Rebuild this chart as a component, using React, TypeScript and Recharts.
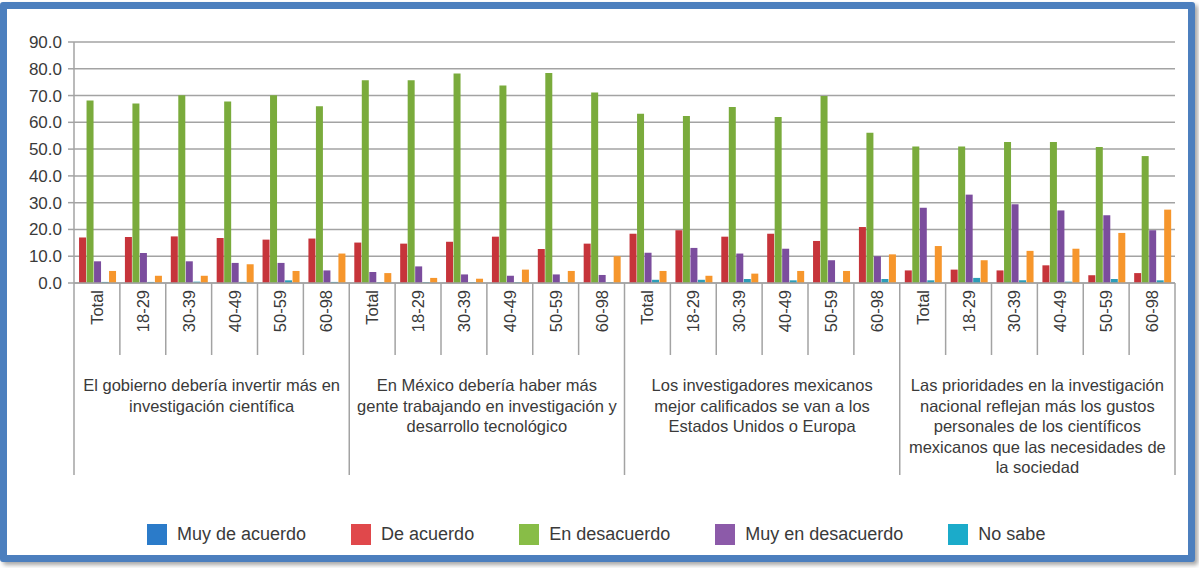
import { BarChart, Bar, XAxis, YAxis, CartesianGrid } from "recharts"

const AGES = ["Total", "18-29", "30-39", "40-49", "50-59", "60-98"]

const GROUPS = [
  ["El gobierno debería invertir más en", "investigación científica"],
  ["En México debería haber más", "gente trabajando en investigación y", "desarrollo tecnológico"],
  ["Los investigadores mexicanos", "mejor calificados se van a los", "Estados Unidos o Europa"],
  [
    "Las prioridades en la investigación",
    "nacional reflejan más los gustos",
    "personales de los científicos",
    "mexicanos que las necesidades de",
    "la sociedad",
  ],
]

const muyDeAcuerdo = [
  17.0, 17.2, 17.4, 16.8, 16.2, 16.6,
  15.1, 14.7, 15.4, 17.3, 12.7, 14.7,
  18.4, 19.7, 17.3, 18.4, 15.7, 20.9,
  4.7, 5.0, 4.7, 6.6, 2.9, 3.7,
]
const deAcuerdo = [
  68.2, 67.0, 70.1, 67.8, 70.1, 66.0,
  75.7, 75.7, 78.2, 73.8, 78.4, 71.1,
  63.2, 62.4, 65.7, 62.0, 69.8, 56.1,
  51.0, 51.0, 52.7, 52.7, 50.8, 47.4,
]
const enDesacuerdo = [
  8.1, 11.2, 8.1, 7.5, 7.5, 4.7,
  4.1, 6.2, 3.2, 2.7, 3.2, 3.0,
  11.3, 13.1, 11.0, 12.8, 8.5, 10.0,
  28.1, 33.0, 29.4, 27.1, 25.3, 19.7,
]
const muyEnDesacuerdo = [
  0.4, 0.4, 0.5, 0.4, 1.0, 0.4,
  0.3, 0.3, 0.3, 0.3, 0.3, 0.3,
  1.2, 1.2, 1.5, 1.0, 0.4, 1.5,
  1.0, 1.9, 1.0, 0.5, 1.5, 1.0,
]
const noSabe = [
  4.5, 2.7, 2.7, 7.0, 4.5, 11.0,
  3.7, 1.9, 1.6, 5.0, 4.5, 10.0,
  4.5, 2.7, 3.5, 4.5, 4.5, 10.7,
  13.8, 8.5, 12.0, 12.8, 18.7, 27.4,
]

const Y_TICKS = [0, 10, 20, 30, 40, 50, 60, 70, 80, 90]

const LEGEND_LABELS = ["Muy de acuerdo", "De acuerdo", "En desacuerdo", "Muy en desacuerdo", "No sabe"]
const LEGEND_COLORS = ["#2b7bc9", "#e0484b", "#88bd47", "#8c5aa9", "#1babca"]

const data = GROUPS.flatMap((_, g) =>
  AGES.map((age, a) => {
    const i = g * AGES.length + a
    return {
      age,
      group: g,
      muyDeAcuerdo: muyDeAcuerdo[i],
      deAcuerdo: deAcuerdo[i],
      enDesacuerdo: enDesacuerdo[i],
      muyEnDesacuerdo: muyEnDesacuerdo[i],
      noSabe: noSabe[i],
    }
  })
)

const W = 1199
const H = 568
const MARGIN = { top: 42, right: 24, left: 14, bottom: 90 }
const Y_WIDTH = 60
const BAND = (W - MARGIN.left - MARGIN.right - Y_WIDTH) / data.length
const FONT = '"Liberation Sans", Arial, sans-serif'
const TEXT = "#3a3a3a"
const LINE = "#a3a3a3"

function AgeTick(props: any) {
  const { x, y, payload } = props
  const index: number = props.index ?? payload.index
  const left = x - BAND / 2
  const groupStart = index % AGES.length === 0
  const last = index === data.length - 1
  const lines = groupStart ? GROUPS[Math.floor(index / AGES.length)] : null
  return (
    <g>
      <line x1={left} y1={y} x2={left} y2={y + (groupStart ? 192 : 72)} stroke={LINE} strokeWidth={1.5} />
      {last && <line x1={x + BAND / 2} y1={y} x2={x + BAND / 2} y2={y + 192} stroke={LINE} strokeWidth={1.5} />}
      <text
        x={x}
        y={y + 7}
        transform={`rotate(-90 ${x} ${y + 7})`}
        textAnchor="end"
        dominantBaseline="central"
        fontSize={16.5}
        fontFamily={FONT}
        fill={TEXT}
      >
        {payload.value}
      </text>
      {lines && (
        <text x={left + BAND * 3} y={y + 102} textAnchor="middle" fontSize={16.5} fontFamily={FONT} fill={TEXT}>
          {lines.map((t, k) => (
            <tspan key={k} x={left + BAND * 3} dy={k === 0 ? 0 : 20.5} dominantBaseline="central">
              {t}
            </tspan>
          ))}
        </text>
      )}
    </g>
  )
}

export default function App() {
  return (
    <div style={{ position: "absolute", left: 0, top: 0, width: W, height: H, background: "#fff", fontFamily: FONT }}>
      <div
        style={{
          position: "absolute",
          left: 0,
          top: 2,
          width: 1195,
          height: 560,
          boxSizing: "border-box",
          border: "7px solid #4c7fbe",
          borderRadius: 3,
          boxShadow: "3px 3px 4px rgba(0,0,0,0.35)",
          background: "#fff",
        }}
      />
      <div style={{ position: "absolute", left: 0, top: 0 }}>
        <BarChart width={W} height={H} data={data} margin={MARGIN} barCategoryGap="11%" barGap={0.5}>
          <CartesianGrid vertical={false} stroke={LINE} strokeWidth={1.5} />
          <XAxis
            dataKey="age"
            interval={0}
            height={195}
            tickLine={false}
            tickSize={0}
            tickMargin={0}
            axisLine={{ stroke: LINE, strokeWidth: 1.5 }}
            tick={<AgeTick />}
          />
          <YAxis
            width={Y_WIDTH}
            domain={[0, 90]}
            ticks={Y_TICKS}
            interval={0}
            tickFormatter={(v: number) => v.toFixed(1)}
            tickSize={6}
            tickMargin={6}
            axisLine={{ stroke: LINE, strokeWidth: 1.5 }}
            tickLine={{ stroke: LINE, strokeWidth: 1.5 }}
            tick={{ fontSize: 17, fill: TEXT, fontFamily: FONT }}
          />
          <Bar dataKey="muyDeAcuerdo" name={LEGEND_LABELS[0]} fill="#c6343a" isAnimationActive={false} />
          <Bar dataKey="deAcuerdo" name={LEGEND_LABELS[1]} fill="#7aab3c" isAnimationActive={false} />
          <Bar dataKey="enDesacuerdo" name={LEGEND_LABELS[2]} fill="#7b4d9d" isAnimationActive={false} />
          <Bar dataKey="muyEnDesacuerdo" name={LEGEND_LABELS[3]} fill="#2c9db8" isAnimationActive={false} />
          <Bar dataKey="noSabe" name={LEGEND_LABELS[4]} fill="#f6962c" isAnimationActive={false} />
        </BarChart>
      </div>
      <div
        style={{
          position: "absolute",
          left: 147,
          top: 523,
          height: 22,
          display: "flex",
          alignItems: "center",
          gap: 45,
          fontSize: 18,
          color: TEXT,
          whiteSpace: "nowrap",
        }}
      >
        {LEGEND_LABELS.map((label, i) => (
          <div key={label} style={{ display: "flex", alignItems: "center", gap: 10 }}>
            <span style={{ display: "inline-block", width: 20, height: 21, background: LEGEND_COLORS[i] }} />
            <span>{label}</span>
          </div>
        ))}
      </div>
    </div>
  )
}
